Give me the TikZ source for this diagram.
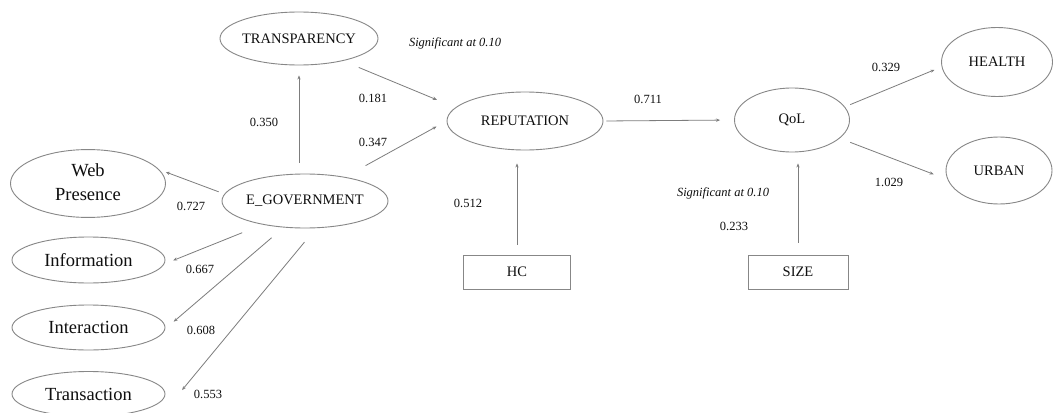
\documentclass[tikz,border=0pt]{standalone}
\usepackage{fontspec}
\setmainfont{Liberation Serif}
\usetikzlibrary{shapes.geometric,arrows.meta,calc}
\definecolor{linegray}{RGB}{135,135,135}
\definecolor{arrgray}{RGB}{125,125,125}
\definecolor{txt}{RGB}{15,15,15}
\begin{document}
\begin{tikzpicture}[x=1pt,y=-1pt,
  ell/.style={ellipse,draw=linegray,line width=0.9pt,inner sep=0pt,text=txt,font=\fontsize{14.5}{17}\selectfont},
  big/.style={font=\fontsize{18.5}{24}\selectfont},
  boxn/.style={rectangle,draw=linegray,line width=0.9pt,inner sep=0pt,text=txt,font=\fontsize{14.5}{17}\selectfont},
  num/.style={text=txt,font=\fontsize{12.5}{15}\selectfont,inner sep=0pt},
  sig/.style={text=txt,font=\fontsize{12.5}{15}\selectfont\itshape,inner sep=0pt},
  arr/.style={draw=arrgray,line width=0.8pt,-{Stealth[length=4pt,width=3.2pt]}}
]
\fill[white] (0,0) rectangle (1059,412);
\useasboundingbox (0,0) rectangle (1059,412);

% nodes
\node[ell,minimum width=158pt,minimum height=53pt] (transp) at (299,38.5) {\makebox[0pt]{TRANSPARENCY}};
\node[ell,minimum width=156pt,minimum height=58pt] (rep) at (525,121) {\makebox[0pt]{REPUTATION}};
\node[ell,minimum width=115pt,minimum height=64pt] (qol) at (792,120) {\makebox[0pt]{QoL}};
\node[ell,minimum width=111pt,minimum height=69pt] (health) at (997,62) {\makebox[0pt]{HEALTH}};
\node[ell,minimum width=106pt,minimum height=67pt] (urban) at (999,170.5) {\makebox[0pt]{URBAN}};
\node[ell,minimum width=166pt,minimum height=54pt] (eg) at (305,201) {\makebox[0pt]{E\_GOVERNMENT}};
\node[ell,big,minimum width=155pt,minimum height=67pt] (web) at (88,183.5) {\makebox[0pt]{\begin{tabular}{@{}c@{}}Web\\Presence\end{tabular}}};
\node[ell,big,minimum width=153pt,minimum height=46pt] (info) at (88.5,260) {\makebox[0pt]{Information}};
\node[ell,big,minimum width=153pt,minimum height=45pt] (inter) at (88.5,327.5) {\makebox[0pt]{Interaction}};
\node[ell,big,minimum width=153pt,minimum height=45pt] (trans) at (88.5,394) {\makebox[0pt]{Transaction}};
\node[boxn,minimum width=107pt,minimum height=34pt] (hc) at (517,272) {HC};
\node[boxn,minimum width=100pt,minimum height=34pt] (size) at (798,272) {SIZE};

% connectors
\draw[arr,shorten <=11pt,shorten >=10pt] (transp.south |- eg.north) -- (transp.south);
\draw[arr,shorten <=17pt,shorten >=20pt] (transp.-27.5) -- (rep.169);
\draw[arr,shorten <=23.5pt,shorten >=11.4pt] (eg.31) -- (rep.180);
\draw[arr,shorten <=3pt,shorten >=14pt] (rep.east) -- (qol.west);
\draw[arr,shorten <=10pt,shorten >=13pt] (hc.north) -- (hc.north |- rep.south);
\draw[arr,shorten <=12pt,shorten >=11pt] (size.north) -- (size.north |- qol.south);
\draw[arr,shorten <=5.7pt,shorten >=7.7pt] (qol.14) -- (health.185);
\draw[arr,shorten <=11.2pt,shorten >=14.9pt] (qol.-21) -- (urban.190);
\draw[arr,shorten <=6.1pt,shorten >=6.9pt] (eg.175) -- (web.11);
\draw[arr,shorten <=21.8pt,shorten >=9.5pt] (eg.209) -- (info.-3);
\draw[arr,shorten <=15.7pt,shorten >=11pt] (eg.231) -- (inter.-1);
\draw[arr,shorten <=18.1pt,shorten >=19.2pt] (eg.-68) -- ([shift={(4.4pt,-10.8pt)}]trans.east);

% labels
\node[sig] (s1) at (455,43) {Significant at 0.10};
\node[sig] (s2) at (723,193) {Significant at 0.10};
\node[num] (l350) at (264,122) {0.350};
\node[num] (l181) at (373,98) {0.181};
\node[num] (l347) at (373,142) {0.347};
\node[num] (l727) at (191,206) {0.727};
\node[num] (l512) at (468,203) {0.512};
\node[num] (l711) at (648,99) {0.711};
\node[num] (l329) at (886,67) {0.329};
\node[num] (l1029) at (889,182) {1.029};
\node[num] (l233) at (734,226) {0.233};
\node[num] (l667) at (200,269) {0.667};
\node[num] (l608) at (201,330) {0.608};
\node[num] (l553) at (208,394) {0.553};
\end{tikzpicture}
\end{document}
